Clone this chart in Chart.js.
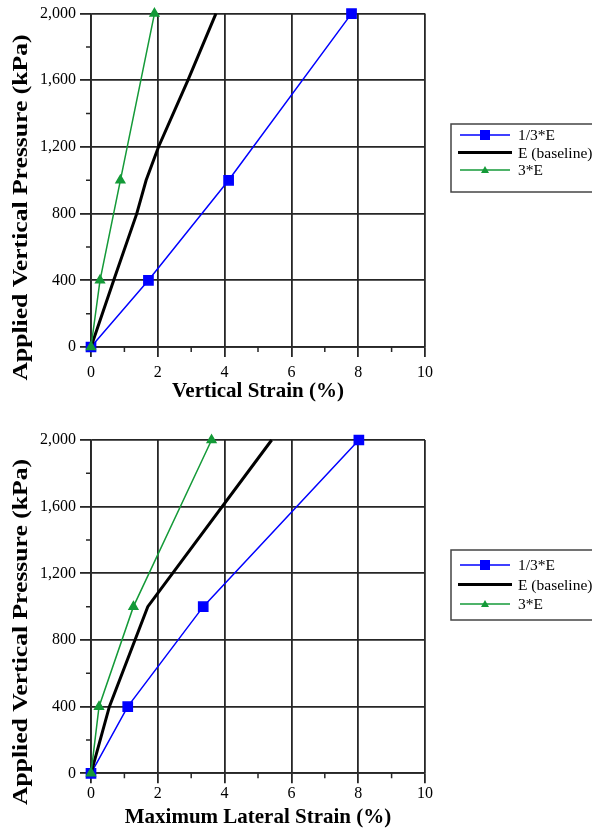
<!DOCTYPE html>
<html>
<head>
<meta charset="utf-8">
<script src="https://cdn.jsdelivr.net/npm/chart.js@4.4.1/dist/chart.umd.min.js"></script>
<style>
  body { margin: 0; background: #fff; }
  .wrap { position: relative; width: 592px; height: 833px; overflow: hidden; }
  canvas { position: absolute; left: 0; }
</style>
</head>
<body>
<div class="wrap">
  <canvas id="chartVertical" width="592" height="416" style="top:0"></canvas>
  <canvas id="chartLateral" width="592" height="417" style="top:416px"></canvas>
</div>
<script>
// data
const seriesLabels = ['1/3*E', 'E (baseline)', '3*E'];
const pressureMarked = [0, 400, 1000, 2000];
const pressureBaseTop = [0, 400, 800, 1000, 1200, 1600, 2000];
const vertStrainThird = [0, 1.72, 4.12, 7.8];
const vertStrainBase = [0, 0.68, 1.37, 1.65, 2.02, 2.9, 3.74];
const vertStrainTriple = [0, 0.27, 0.88, 1.9];
const latStrainThird = [0, 1.1, 3.36, 8.02];
const latStrainBase = [0, 0.55, 1.7, 5.41];
const latStrainTriple = [0, 0.24, 1.27, 3.61];
const xTicks = [0, 2, 4, 6, 8, 10];
const yTicks = [0, 400, 800, 1200, 1600, 2000];

const FONT = '"Liberation Serif", "Times New Roman", serif';
const GRID = '#262626';
const BLUE = '#0000ff';
const GREEN = '#149a38';

function pts(xs, ys) {
    return xs.map((x, i) => ({ x: x, y: ys[i] }));
}

function buildSets(third, base, baseY, triple) {
    return [
        { label: seriesLabels[0], data: pts(third, pressureMarked), borderColor: BLUE, backgroundColor: BLUE,
          pointBackgroundColor: BLUE, pointBorderColor: BLUE, borderWidth: 1.5, pointStyle: 'rect', pointRadius: 6.5, clip: false, order: 3 },
        { label: seriesLabels[1], data: pts(base, baseY), borderColor: '#000', backgroundColor: '#000',
          borderWidth: 3, pointRadius: 0, clip: false, order: 2 },
        { label: seriesLabels[2], data: pts(triple, pressureMarked), borderColor: GREEN, backgroundColor: GREEN,
          pointBackgroundColor: GREEN, pointBorderColor: GREEN, borderWidth: 1.5, pointStyle: 'triangle', pointRadius: 5, clip: false, order: 1 }
    ];
}

// minor tick marks between the labelled ones
const minorTicks = {
    id: 'minorTicks',
    afterDraw(chart) {
        const ctx = chart.ctx, xs = chart.scales.x, ys = chart.scales.y;
        const area = chart.chartArea;
        ctx.save();
        ctx.strokeStyle = GRID;
        ctx.lineWidth = 1.5;
        ctx.beginPath();
        for (let i = 0; i < xs.ticks.length - 1; i++) {
            const px = xs.getPixelForValue((xs.ticks[i].value + xs.ticks[i + 1].value) / 2);
            ctx.moveTo(px, area.bottom);
            ctx.lineTo(px, area.bottom + 5);
        }
        for (let i = 0; i < ys.ticks.length - 1; i++) {
            const py = ys.getPixelForValue((ys.ticks[i].value + ys.ticks[i + 1].value) / 2);
            ctx.moveTo(area.left - 5, py);
            ctx.lineTo(area.left, py);
        }
        ctx.stroke();
        ctx.restore();
    }
};

const sideTitle = {
    id: 'sideTitle',
    afterDraw(chart, args, opts) {
        const ctx = chart.ctx;
        ctx.save();
        ctx.translate(opts.x, opts.y);
        ctx.rotate(-Math.PI / 2);
        ctx.scale(opts.stretch, 1);
        ctx.font = 'bold 21px ' + FONT;
        ctx.textAlign = 'center';
        ctx.textBaseline = 'middle';
        ctx.fillStyle = '#000';
        ctx.fillText(opts.text, 0, 0);
        ctx.restore();
    }
};

const boxLegend = {
    id: 'boxLegend',
    afterDraw(chart, args, opts) {
        const ctx = chart.ctx;
        ctx.save();
        ctx.strokeStyle = '#444';
        ctx.lineWidth = 1.5;
        ctx.strokeRect(opts.x, opts.y, opts.w, opts.h);
        ctx.font = '15.5px ' + FONT;
        ctx.textBaseline = 'middle';
        chart.data.datasets.forEach((ds, i) => {
            const y = opts.y + opts.rowStart + i * opts.rowGap;
            const wide = ds.pointRadius ? 0 : 2;
            ctx.strokeStyle = ds.borderColor;
            ctx.lineWidth = ds.borderWidth;
            ctx.beginPath();
            ctx.moveTo(opts.x + 9 - wide, y);
            ctx.lineTo(opts.x + 59 + wide, y);
            ctx.stroke();
            const mx = opts.x + 34;
            ctx.fillStyle = ds.borderColor;
            if (ds.pointStyle === 'rect') {
                ctx.fillRect(mx - 5, y - 5, 10, 10);
            } else if (ds.pointStyle === 'triangle') {
                ctx.beginPath();
                ctx.moveTo(mx, y - 4);
                ctx.lineTo(mx + 4, y + 3);
                ctx.lineTo(mx - 4, y + 3);
                ctx.closePath();
                ctx.fill();
            }
            ctx.fillStyle = '#000';
            ctx.fillText(ds.label, opts.x + 67, y + 1);
        });
        ctx.restore();
    }
};

function makeChart(id, xTitle, datasets, lay) {
    const ctx = document.getElementById(id).getContext('2d');
    return new Chart(ctx, {
        type: 'line',
        data: { datasets: datasets },
        plugins: [minorTicks, sideTitle, boxLegend],
        options: {
            responsive: false,
            animation: false,
            devicePixelRatio: 1,
            layout: { padding: { left: 0, right: 167, top: lay.top, bottom: lay.bottom } },
            scales: {
                x: {
                    type: 'linear', min: xTicks[0], max: xTicks[xTicks.length - 1],
                    ticks: { stepSize: xTicks[1] - xTicks[0], color: '#000', font: { family: FONT, size: 16 }, padding: lay.xPad, maxRotation: 0 },
                    grid: { color: GRID, lineWidth: 1.8, tickLength: 10, tickColor: GRID },
                    border: { color: GRID, width: 1.8 },
                    title: { display: true, text: xTitle, color: '#000', font: { family: FONT, size: 21, weight: 'bold' }, padding: 0 },
                    afterFit: s => { s.height = lay.xHeight; }
                },
                y: {
                    type: 'linear', min: yTicks[0], max: yTicks[yTicks.length - 1],
                    ticks: { stepSize: yTicks[1] - yTicks[0], color: '#000', font: { family: FONT, size: 16 }, padding: 4,
                             callback: v => v.toLocaleString('en-US') },
                    grid: { color: GRID, lineWidth: 1.8, tickLength: 11, tickColor: GRID },
                    border: { color: GRID, width: 1.8 },
                    afterFit: s => { s.width = 91; }
                }
            },
            plugins: {
                legend: { display: false },
                tooltip: { enabled: false },
                sideTitle: { text: 'Applied Vertical Pressure (kPa)', x: 21.5, y: lay.titleY, stretch: 1.22 },
                boxLegend: lay.legend
            }
        }
    });
}

makeChart('chartVertical', 'Vertical Strain (%)',
    buildSets(vertStrainThird, vertStrainBase, pressureBaseTop, vertStrainTriple),
    { top: 13, bottom: 11.4, xHeight: 57.6, xPad: 6, titleY: 207.5,
      legend: { x: 451, y: 124, w: 150, h: 68, rowStart: 11, rowGap: 17.5 } });

makeChart('chartLateral', 'Maximum Lateral Strain (%)',
    buildSets(latStrainThird, latStrainBase, pressureMarked, latStrainTriple),
    { top: 24, bottom: 2.4, xHeight: 57.3, xPad: 1, titleY: 216,
      legend: { x: 451, y: 134, w: 150, h: 70, rowStart: 15, rowGap: 19.5 } });
</script>
</body>
</html>
